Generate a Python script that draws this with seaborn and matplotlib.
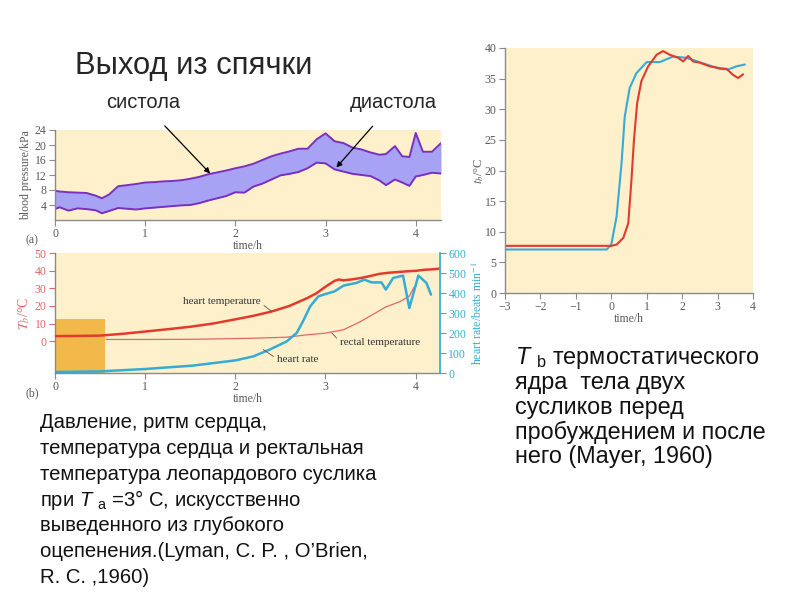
import matplotlib
matplotlib.use("Agg")
import matplotlib.pyplot as plt
import numpy as np
import seaborn as sns

# (a) blood pressure, kPa
bp_hours = [0, 0.05, 0.15, 0.25, 0.35, 0.45, 0.52, 0.6, 0.7, 0.8, 0.9, 1.0, 1.1, 1.2, 1.3, 1.4,
            1.5, 1.6, 1.7, 1.8, 1.9, 2.0, 2.1, 2.2, 2.3, 2.4, 2.5, 2.6, 2.7, 2.8, 2.9, 3.0,
            3.1, 3.2, 3.3, 3.4, 3.5, 3.6, 3.67, 3.77, 3.85, 3.93, 4.0, 4.08, 4.18, 4.28]
systole = [7.8, 7.6, 7.4, 7.3, 7.2, 6.5, 5.8, 6.8, 9.0, 9.3, 9.6, 10.0, 10.1, 10.3, 10.4, 10.6,
           11.0, 11.5, 12.2, 12.7, 13.2, 13.8, 14.3, 15.0, 16.0, 17.0, 17.7, 18.3, 19.0, 19.0, 21.5, 23.1,
           21.0, 20.5, 19.3, 18.8, 18.0, 17.4, 17.6, 19.7, 17.0, 16.8, 23.2, 18.2, 18.2, 20.5]
diastole = [2.9, 3.4, 2.5, 3.1, 2.9, 2.6, 1.8, 2.4, 3.2, 3.0, 2.8, 3.1, 3.3, 3.5, 3.7, 3.9,
            4.0, 4.5, 5.2, 5.8, 6.4, 7.4, 7.3, 8.9, 9.7, 10.8, 11.9, 12.3, 12.8, 13.8, 15.3, 15.1,
            13.5, 12.9, 12.3, 12.0, 11.7, 10.5, 9.3, 10.8, 10.0, 9.1, 11.6, 12.0, 12.6, 12.4]

# (b) heart temperature, rectal temperature (°C), heart rate (beats/min)
ht_hours = [0, 0.25, 0.5, 0.75, 1.0, 1.25, 1.5, 1.75, 2.0, 2.2, 2.4, 2.6, 2.8, 2.9, 3.0, 3.1,
            3.15, 3.2, 3.3, 3.4, 3.5, 3.6, 3.7, 3.8, 3.9, 4.0, 4.1, 4.2, 4.27]
heart_temp = [2.9, 3.0, 3.2, 4.2, 5.5, 6.8, 8.2, 10.0, 12.4, 14.4, 16.8, 20.0, 24.5, 27.2, 30.9, 34.2,
              35.0, 34.5, 35.1, 35.9, 37.0, 38.2, 38.8, 39.2, 39.6, 39.9, 40.5, 40.8, 41.2]
rt_hours = [0.57, 1.0, 1.5, 2.0, 2.2, 2.57, 2.79, 3.0, 3.2, 3.38, 3.53, 3.67, 3.82, 3.93, 3.98]
rectal_temp = [1.0, 1.0, 1.1, 1.5, 1.7, 2.3, 3.6, 4.6, 6.5, 10.9, 15.3, 19.5, 22.3, 25.6, 30.5]
hr_hours = [0, 0.5, 1.0, 1.53, 2.0, 2.2, 2.38, 2.57, 2.68, 2.75, 2.83, 2.92, 3.0, 3.1, 3.2,
            3.34, 3.43, 3.51, 3.62, 3.67, 3.75, 3.86, 3.93, 4.03, 4.12, 4.17]
heart_rate = [5, 8, 20, 37, 63, 83, 117, 158, 200, 258, 333, 383, 395, 408, 437,
              450, 467, 453, 453, 417, 475, 487, 325, 487, 450, 392]
torpor_end_h = 0.55
torpor_top = 12.5

# right panel: Tb of two ground squirrels
red_x = [-3, 0.0, 0.15, 0.34, 0.48, 0.57, 0.64, 0.73, 0.85, 1.04, 1.28, 1.46, 1.65, 1.89, 2.03,
         2.17, 2.31, 2.5, 2.78, 3.06, 3.25, 3.44, 3.58, 3.72]
red_y = [7.7, 7.7, 7.9, 9.0, 11.4, 18.5, 25.0, 31.0, 34.6, 37.0, 38.9, 39.5, 38.9, 38.4, 37.8,
         38.7, 37.8, 37.6, 37.0, 36.7, 36.6, 35.6, 35.1, 35.7]
blue_x = [-3, -0.13, 0.0, 0.15, 0.29, 0.38, 0.52, 0.71, 1.0, 1.37, 1.74, 2.12, 2.59, 3.06, 3.3, 3.53, 3.77]
blue_y = [7.1, 7.1, 7.9, 12.5, 21.2, 28.8, 33.5, 35.9, 37.7, 37.7, 38.6, 38.4, 37.5, 36.6, 36.5, 37.0, 37.3]

BG = "#FDF0CB"
RED = "#E23B2E"
LRED = "#E4666A"
BLUE = "#35ACD6"
PURPLE = "#7A2FC0"
FILL = "#A8A2F4"
GREY = "#5A5A5A"

sns.set_theme(style="ticks")
plt.rcParams["font.family"] = ["Liberation Sans", "DejaVu Sans"]
plt.rcParams["mathtext.fontset"] = "custom"
plt.rcParams["mathtext.rm"] = "Liberation Sans"
plt.rcParams["mathtext.it"] = "Liberation Sans:italic"

SERIF = ["Liberation Serif", "DejaVu Serif"]


def style_axis(ax):
    ax.set_facecolor(BG)
    for s in ["top", "right"]:
        ax.spines[s].set_visible(False)
    for s in ["left", "bottom"]:
        ax.spines[s].set_color("#8A8A8A")
        ax.spines[s].set_linewidth(1.0)
    ax.tick_params(direction="out", length=4, width=0.8, colors="#8A8A8A",
                   labelcolor=GREY, labelsize=8.5, pad=2)
    for lab in ax.get_xticklabels() + ax.get_yticklabels():
        lab.set_fontfamily(SERIF)


fig = plt.figure(figsize=(8, 6), dpi=100)

# ---- panel (a)
ax_a = fig.add_axes([55 / 800, 1 - 220 / 600, 386 / 800, 90 / 600])
ax_a.fill_between(bp_hours, diastole, systole, color=FILL, lw=0)
sns.lineplot(x=bp_hours, y=systole, ax=ax_a, color=PURPLE, lw=1.4, sort=False)
sns.lineplot(x=bp_hours, y=diastole, ax=ax_a, color=PURPLE, lw=1.4, sort=False)
ax_a.set_xlim(0, 4.28)
ax_a.set_ylim(0, 24)
ax_a.set_xticks([0, 1, 2, 3, 4])
ax_a.set_yticks([4, 8, 12, 16, 20, 24])
style_axis(ax_a)
ax_a.set_xlabel("time/h", fontfamily=SERIF, fontsize=8.5, color=GREY, labelpad=0)
ax_a.set_ylabel("blood pressure/kPa", fontfamily=SERIF, fontsize=8.5, color=GREY, labelpad=2)

ax_a.annotate("систола", xy=(1.72, 12.4), xytext=(143 / 800, 1 - 103 / 600),
              textcoords="figure fraction", fontsize=14.5, ha="center", va="center",
              arrowprops=dict(arrowstyle="-|>", color="black", lw=0.9, mutation_scale=8,
                              shrinkA=10, shrinkB=0))
ax_a.annotate("диастола", xy=(3.12, 14.0), xytext=(393 / 800, 1 - 103 / 600),
              textcoords="figure fraction", fontsize=14.5, ha="center", va="center",
              arrowprops=dict(arrowstyle="-|>", color="black", lw=0.9, mutation_scale=8,
                              shrinkA=10, shrinkB=0))

# ---- panel (b)
ax_b = fig.add_axes([55 / 800, 1 - 373 / 600, 385 / 800, 120 / 600])
ax_b.fill_between([0, torpor_end_h], -18, torpor_top, color="#F2B94A", lw=0, zorder=1)
sns.lineplot(x=ht_hours, y=heart_temp, ax=ax_b, color=RED, lw=1.8, sort=False, zorder=3)
sns.lineplot(x=rt_hours, y=rectal_temp, ax=ax_b, color=LRED, lw=0.9, sort=False, zorder=3)
ax_b.set_xlim(0, 4.27)
ax_b.set_ylim(-18, 50)
ax_b.set_xticks([0, 1, 2, 3, 4])
ax_b.set_yticks([0, 10, 20, 30, 40, 50])
style_axis(ax_b)
ax_b.tick_params(axis="y", colors=LRED, labelcolor=LRED)
ax_b.set_xlabel("time/h", fontfamily=SERIF, fontsize=8.5, color=GREY, labelpad=0)
ax_b.set_ylabel("$T_b$/°C", fontfamily=SERIF, fontsize=10, color=LRED, labelpad=2,
                math_fontfamily="stix")

ax_r = ax_b.twinx()
sns.lineplot(x=hr_hours, y=heart_rate, ax=ax_r, color=BLUE, lw=1.8, sort=False)
ax_r.set_ylim(0, 600)
ax_r.set_yticks(range(0, 601, 100))
for s in ["top", "left", "bottom"]:
    ax_r.spines[s].set_visible(False)
ax_r.spines["right"].set_color(BLUE)
ax_r.tick_params(direction="out", length=4, width=0.8, colors=BLUE, labelsize=8.5, pad=2)
for lab in ax_r.get_yticklabels():
    lab.set_fontfamily(SERIF)
ax_r.set_ylabel("heart rate/beats min$^{-1}$", fontfamily=SERIF, fontsize=8.5, color=BLUE,
                labelpad=3, math_fontfamily="stix")

lab_kw = dict(fontfamily=SERIF, fontsize=8, color="#333333")
ax_b.annotate("heart temperature", xy=(2.4, 17.0), xytext=(1.42, 22.7), va="center", **lab_kw,
              arrowprops=dict(arrowstyle="-", color="#555555", lw=0.6, shrinkA=0, shrinkB=0,
                              relpos=(1, 0.3)))
ax_b.annotate("rectal temperature", xy=(3.07, 4.7), xytext=(3.16, -0.8), va="center", **lab_kw,
              arrowprops=dict(arrowstyle="-", color="#555555", lw=0.6, shrinkA=0, shrinkB=0,
                              relpos=(0, 0.6)))
ax_r.annotate("heart rate", xy=(2.31, 117), xytext=(2.46, 67), va="center", **lab_kw,
              arrowprops=dict(arrowstyle="-", color="#555555", lw=0.6, shrinkA=0, shrinkB=0,
                              relpos=(0, 0.6)))

# ---- right panel
ax_c = fig.add_axes([505 / 800, 1 - 293 / 600, 248 / 800, 245 / 600])
sns.lineplot(x=blue_x, y=blue_y, ax=ax_c, color=BLUE, lw=1.5, sort=False)
sns.lineplot(x=red_x, y=red_y, ax=ax_c, color=RED, lw=1.5, sort=False)
ax_c.set_xlim(-3, 4)
ax_c.set_ylim(0, 40)
ax_c.set_xticks(range(-3, 5))
ax_c.set_yticks(range(0, 41, 5))
style_axis(ax_c)
ax_c.set_xticklabels([str(v).replace("-", "\u2212") for v in range(-3, 5)])
for lab in ax_c.get_xticklabels():
    lab.set_fontfamily(SERIF)
ax_c.set_xlabel("time/h", fontfamily=SERIF, fontsize=8.5, color=GREY, labelpad=0)
ax_c.set_ylabel("$t_b$/°C", fontfamily=SERIF, fontsize=9, color=GREY, labelpad=-1,
                math_fontfamily="stix")

# ---- slide text
fig.text(75 / 800, 1 - 66 / 600, "Выход из спячки", fontsize=22.3, va="center", ha="left")
fig.text(25 / 800, 1 - 240 / 600, "(a)", fontfamily=SERIF, fontsize=8.5, color=GREY, va="center")
fig.text(26 / 800, 1 - 393 / 600, "(b)", fontfamily=SERIF, fontsize=8.5, color=GREY, va="center")

left_lines = ["Давление, ритм сердца,",
              "температура сердца и ректальная",
              "температура леопардового суслика",
              "при $\\it{T}$ $_{\\rm a}$ =3° C, искусственно",
              "выведенного из глубокого",
              "оцепенения.(Lyman, C. P. , O\u2019Brien,",
              "R. C. ,1960)"]
for i, line in enumerate(left_lines):
    fig.text(40 / 800, 1 - (423 + i * 25.7) / 600, line, fontsize=14.6, va="center", ha="left",
             color="#111111")

right_lines = ["$\\it{T}$ $_{\\rm b}$ термостатического",
               "ядра  тела двух",
               "сусликов перед",
               "пробуждением и после",
               "него (Mayer, 1960)"]
for i, line in enumerate(right_lines):
    fig.text(515 / 800, 1 - (358 + i * 24.7) / 600, line, fontsize=16.8, va="center", ha="left",
             color="#111111")

fig.savefig("out.png", dpi=100)
